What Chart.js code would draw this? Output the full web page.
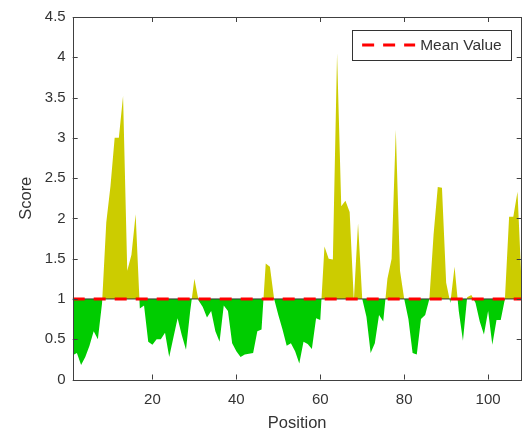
<!DOCTYPE html>
<html>
<head>
<meta charset="utf-8">
<script src="https://cdn.jsdelivr.net/npm/chart.js@4.4.0/dist/chart.umd.min.js"></script>
<style>
  html, body { margin: 0; padding: 0; background: #fff; }
  canvas { display: block; }
</style>
</head>
<body>
<canvas id="c" width="526" height="435"></canvas>
<script type="text/javascript">
    // score per residue position
    var scores = [
        0.30, 0.33, 0.18, 0.28, 0.42, 0.60, 0.50, 0.95, 1.95, 2.40,
        3.00, 3.00, 3.52, 1.35, 1.55, 2.05, 0.88, 0.92, 0.47, 0.43,
        0.50, 0.50, 0.58, 0.28, 0.52, 0.76, 0.55, 0.37, 0.85, 1.25,
        0.98, 0.90, 0.77, 0.85, 0.60, 0.47, 0.92, 0.85, 0.45, 0.35,
        0.28, 0.31, 0.32, 0.33, 0.60, 0.62, 1.44, 1.40, 1.00, 0.80,
        0.62, 0.42, 0.45, 0.35, 0.20, 0.47, 0.44, 0.38, 0.76, 0.74,
        1.65, 1.50, 1.49, 4.05, 2.15, 2.22, 2.08, 0.98, 1.94, 1.00,
        0.78, 0.33, 0.45, 0.80, 0.72, 1.25, 1.50, 3.10, 1.35, 1.00,
        0.75, 0.33, 0.31, 0.75, 0.80, 1.00, 1.80, 2.39, 2.38, 1.20,
        0.95, 1.40, 0.85, 0.48, 1.02, 1.05, 0.95, 0.72, 0.56, 0.85,
        0.43, 0.74, 0.74, 1.00, 2.02, 2.02, 2.33, 1.15
    ];
    var firstPosition = 1;
    var meanValue = 1;
    var meanLabel = "Mean Value";
    var xTicks = [20, 40, 60, 80, 100];
    var yTicks = [0, 0.5, 1, 1.5, 2, 2.5, 3, 3.5, 4, 4.5];
    var xTitle = "Position";
    var yTitle = "Score";

    var axisColor = "#404040";
    var textColor = "#333333";
    var fontFamily = "'Liberation Sans', Arial, Helvetica, sans-serif";

    var points = scores.map(function(v, i){ return {x: firstPosition + i, y: v}; });
    var lastPosition = firstPosition + scores.length - 1;
    var meanLine = [{x: firstPosition, y: meanValue}, {x: lastPosition, y: meanValue}];

    // box round the axes + ticks pointing inward, matlab style
    var boxPlugin = {
        id: "box",
        afterDraw: function(chart){
            var ctx = chart.ctx, a = chart.chartArea;
            var xs = chart.scales.x, ys = chart.scales.y;
            ctx.save();
            ctx.strokeStyle = axisColor;
            ctx.lineWidth = 1;
            ctx.beginPath();
            for(var i in xTicks){
                var px = Math.round(xs.getPixelForValue(xTicks[i])) + 0.5;
                ctx.moveTo(px, a.bottom); ctx.lineTo(px, a.bottom - 5);
                ctx.moveTo(px, a.top); ctx.lineTo(px, a.top + 5);
            }
            for(var j in yTicks){
                var py = Math.round(ys.getPixelForValue(yTicks[j])) + 0.5;
                ctx.moveTo(a.left, py); ctx.lineTo(a.left + 5, py);
                ctx.moveTo(a.right, py); ctx.lineTo(a.right - 5, py);
            }
            ctx.stroke();
            ctx.strokeRect(Math.round(a.left) + 0.5, Math.round(a.top) + 0.5,
                Math.round(a.right - a.left) - 1, Math.round(a.bottom - a.top));
            ctx.restore();
        }
    };

    var legendPlugin = {
        id: "boxLegend",
        afterDraw: function(chart){
            var ctx = chart.ctx, a = chart.chartArea;
            var ds = chart.data.datasets[2];
            ctx.save();
            ctx.font = "15.5px " + fontFamily;
            var tw = ctx.measureText(ds.label).width;
            var w = tw + 77, h = 30;
            var x = a.right - 11 - w, y = a.top + 13;
            ctx.fillStyle = "#fff";
            ctx.fillRect(x, y, w, h);
            ctx.strokeStyle = "#333";
            ctx.lineWidth = 1;
            ctx.strokeRect(Math.round(x) + 0.5, Math.round(y) + 0.5, Math.round(w), h);
            ctx.strokeStyle = ds.borderColor;
            ctx.lineWidth = ds.borderWidth;
            ctx.setLineDash(ds.borderDash);
            ctx.beginPath();
            ctx.moveTo(x + 10, y + h / 2);
            ctx.lineTo(x + 63, y + h / 2);
            ctx.stroke();
            ctx.setLineDash([]);
            ctx.fillStyle = textColor;
            ctx.textBaseline = "middle";
            ctx.fillText(ds.label, x + 68, y + h / 2 + 1);
            ctx.restore();
        }
    };

    var chart = new Chart(document.getElementById("c").getContext("2d"), {
        type: "line",
        data: {
            datasets: [{
                label: "Score",
                data: points,
                borderWidth: 0,
                borderColor: "rgba(0,0,0,0)",
                pointRadius: 0,
                tension: 0,
                fill: {target: {value: meanValue}, above: "rgb(204,204,0)", below: "rgb(0,204,0)"},
                order: 3
            }, {
                label: "baseline",
                data: meanLine,
                borderColor: "#333",
                borderWidth: 1,
                pointRadius: 0,
                fill: false,
                order: 2
            }, {
                label: meanLabel,
                data: meanLine,
                borderColor: "#ff0000",
                borderWidth: 3,
                borderDash: [12, 9],
                pointRadius: 0,
                fill: false,
                order: 1
            }]
        },
        options: {
            responsive: false,
            animation: false,
            devicePixelRatio: 1,
            layout: {padding: {left: 0, top: 17, right: 4.3, bottom: 0}},
            plugins: {legend: {display: false}, tooltip: {enabled: false}},
            scales: {
                x: {
                    type: "linear",
                    min: firstPosition,
                    max: lastPosition,
                    afterBuildTicks: function(s){ s.ticks = xTicks.map(function(v){ return {value: v}; }); },
                    afterFit: function(s){ s.height = 55.5; },
                    grid: {display: false, drawTicks: false},
                    border: {display: false},
                    ticks: {color: textColor, padding: 11, maxRotation: 0, font: {family: fontFamily, size: 15}},
                    title: {display: true, text: xTitle, color: textColor, padding: {top: 0, bottom: 2},
                        font: {family: fontFamily, size: 16.5}}
                },
                y: {
                    type: "linear",
                    min: yTicks[0],
                    max: yTicks[yTicks.length - 1],
                    afterBuildTicks: function(s){ s.ticks = yTicks.map(function(v){ return {value: v}; }); },
                    afterFit: function(s){ s.width = 72.7; },
                    grid: {display: false, drawTicks: false},
                    border: {display: false},
                    ticks: {color: textColor, padding: 7, font: {family: fontFamily, size: 15},
                        callback: function(v){ return String(v); }},
                    title: {display: true, text: yTitle, color: textColor, padding: {top: 17, bottom: 0},
                        font: {family: fontFamily, size: 16.5}}
                }
            }
        },
        plugins: [boxPlugin, legendPlugin]
    });
</script>
</body>
</html>
